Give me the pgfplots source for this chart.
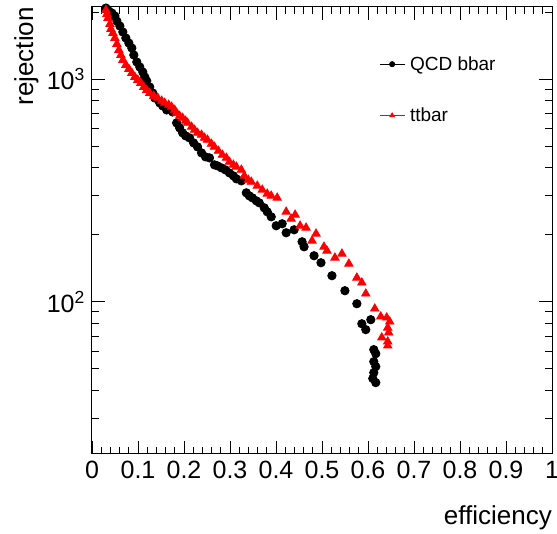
\documentclass[border=0pt]{standalone}
\usepackage{fontspec}
\setmainfont{Liberation Sans}
\usepackage{pgfplots}
\pgfplotsset{compat=1.18}

% rejection vs efficiency
\pgfplotstableread{
eff rej
0.0303 2082
0.0368 2018
0.0433 1977
0.0498 1917
0.0541 1820
0.0606 1729
0.0671 1625
0.0736 1527
0.0801 1450
0.0866 1377
0.0909 1281
0.0974 1192
0.1039 1132
0.1104 1075
0.1147 1021
0.1190 979.5
0.1255 920.7
0.1320 865.4
0.1364 821.9
0.1472 780.7
0.1537 756.8
0.1623 726.1
0.1753 711.2
0.1840 634.9
0.1905 603.0
0.1970 572.7
0.2035 555.2
0.2121 543.8
0.2208 516.5
0.2294 495.6
0.2381 465.8
0.2468 447.0
0.2554 442.3
0.2662 411.5
0.2727 407.3
0.2814 399.0
0.2900 390.8
0.2987 378.9
0.3074 367.3
0.3139 356.1
0.3247 348.8
0.3355 308.2
0.3420 298.7
0.3485 292.7
0.3571 283.8
0.3636 277.9
0.3745 263.9
0.3810 253.2
0.3896 240.5
0.4004 219.2
0.4134 223.8
0.4221 203.9
0.4394 210.3
0.4567 185.8
0.4610 176.4
0.4827 160.8
0.4978 149.6
0.5216 130.8
0.5498 112.0
0.5758 97.9
0.5866 79.6
0.5952 74.9
0.6061 83.0
0.6126 60.9
0.6169 58.4
0.6126 53.8
0.6169 51.1
0.6126 48.0
0.6104 45.2
0.6169 43.3
}\qcd

\pgfplotstableread{
eff rej
0.0303 2039
0.0325 1957
0.0346 1877
0.0390 1765
0.0411 1676
0.0455 1608
0.0498 1527
0.0541 1435
0.0584 1349
0.0628 1281
0.0671 1217
0.0736 1156
0.0801 1109
0.0866 1064
0.0931 1021
0.0996 989.7
0.1061 959.6
0.1126 920.7
0.1190 892.6
0.1255 865.4
0.1342 839.0
0.1429 821.9
0.1515 796.9
0.1580 780.7
0.1667 764.7
0.1732 749.1
0.1797 726.1
0.1840 703.9
0.1905 682.5
0.1970 668.6
0.2035 648.2
0.2078 634.9
0.2165 609.3
0.2229 590.7
0.2294 572.7
0.2381 561.0
0.2446 543.8
0.2511 532.8
0.2597 511.2
0.2662 495.6
0.2749 475.5
0.2835 456.3
0.2922 442.3
0.2987 424.4
0.3074 411.5
0.3139 403.1
0.3247 390.8
0.3312 367.3
0.3398 352.4
0.3463 345.2
0.3593 331.3
0.3701 317.9
0.3810 305.0
0.3896 298.7
0.4026 292.7
0.4221 253.2
0.4329 235.6
0.4416 245.5
0.4524 219.2
0.4654 214.7
0.4784 187.7
0.4870 201.8
0.5043 176.4
0.5108 169.3
0.5281 157.5
0.5433 164.1
0.5584 148.0
0.5758 128.1
0.5866 121.7
0.5952 108.6
0.6147 93.0
0.6277 85.7
0.6407 84.8
0.6472 81.3
0.6429 76.4
0.6450 72.6
0.6299 69.0
0.6429 66.2
0.6429 63.5
}\ttbar

\begin{document}
\begin{tikzpicture}
\begin{axis}[
    at={(92pt,79pt)}, anchor=south west,
    scale only axis,
    width=460pt, height=447pt,
    ymode=log,
    xmin=0, xmax=1,
    ymin=20.7, ymax=2105,
    xtick={0,0.1,...,1},
    xticklabels={0,0.1,0.2,0.3,0.4,0.5,0.6,0.7,0.8,0.9,1},
    minor x tick num=4,
    ytick={100,1000},
    yticklabels={10\textsuperscript{2},10\textsuperscript{3}},
    minor ytick={30,40,50,60,70,80,90,200,300,400,500,600,700,800,900,2000},
    tick align=inside,
    xtick pos=both, ytick pos=both,
    xticklabel pos=lower, yticklabel pos=left,
    major tick length=13pt, minor tick length=7pt,
    axis line style={line width=1pt},
    every tick/.style={black, line width=0.8pt},
    tick label style={font=\fontsize{25}{29}\selectfont, inner sep=0pt},
    xticklabel shift=7pt,
    yticklabel shift=7pt,
    label style={font=\fontsize{26}{31}\selectfont, inner sep=0pt},
    xlabel={efficiency},
    ylabel={rejection},
    xlabel style={at={(axis description cs:1,-0.157)}, anchor=base east},
    ylabel style={at={(axis description cs:-0.128,1)}, anchor=base east},
    clip=false,
    legend image code/.code={
        \draw[mark repeat=2,mark phase=2,#1,sharp plot,mark size=2.6pt]
        plot coordinates {(0pt,0pt) (12.5pt,0pt) (25pt,0pt)};},
    legend style={draw=none, fill=none, inner sep=0pt,
        at={(axis description cs:0.624,0.894)}, anchor=north west,
        font=\fontsize{19}{22}\selectfont,
        row sep=32pt,
        /tikz/every odd column/.append style={column sep=3pt}},
    legend cell align=left,
]
\addplot[only marks, mark=*, black, mark size=4.2pt, line width=0.8pt]
    table[x=eff, y=rej] {\qcd};
\addlegendentry{QCD bbar}
\addplot[only marks, mark=triangle*, red, mark size=4.8pt, line width=0.8pt]
    table[x=eff, y=rej] {\ttbar};
\addlegendentry{ttbar}
\end{axis}
\pgfresetboundingbox
\path[use as bounding box] (0,0) rectangle (557pt,533pt);
\end{tikzpicture}
\end{document}
